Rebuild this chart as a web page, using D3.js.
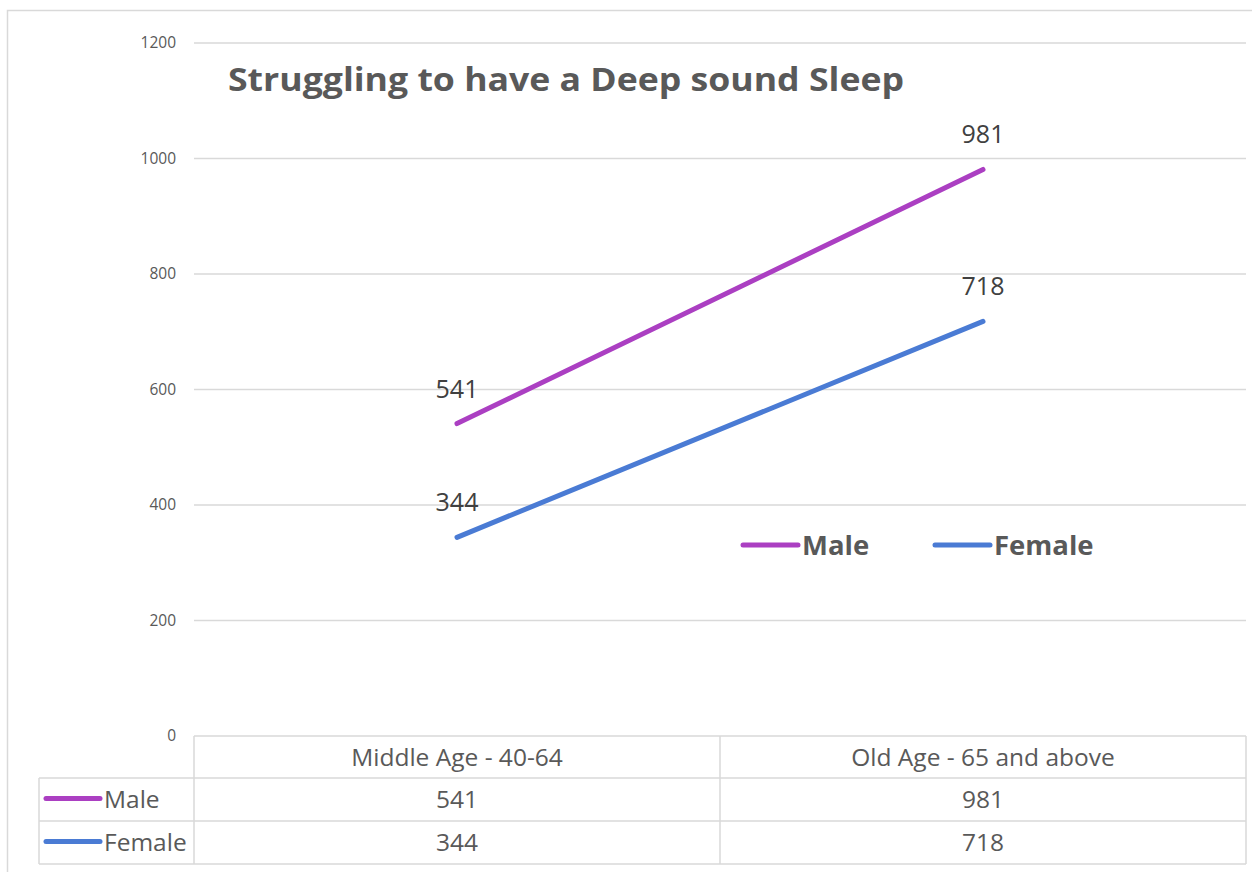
<!DOCTYPE html>
<html>
<head>
<meta charset="utf-8">
<script src="https://cdn.jsdelivr.net/npm/d3@7/dist/d3.min.js"></script>
<style>
  html, body { margin: 0; padding: 0; background: #fff; }
  svg { display: block; font-family: "Open Sans", "Noto Sans", sans-serif; }
</style>
</head>
<body>
<svg id="chart" width="1252" height="872"></svg>
<script>
// Chart data
const categories = ["Middle Age - 40-64", "Old Age - 65 and above"];
const seriesNames = ["Male", "Female"];
const maleValues = [541, 981];
const femaleValues = [344, 718];
const yTicks = [0, 200, 400, 600, 800, 1000, 1200];
const titleText = "Struggling to have a Deep sound Sleep";

const colors = { Male: "#ab3fc2", Female: "#4a7bd4" };
const series = [
  { name: seriesNames[0], values: maleValues },
  { name: seriesNames[1], values: femaleValues }
];

const svg = d3.select("#chart");
const W = 1252, H = 872;
const plot = { left: 194, right: 1246, top: 43, bottom: 736 };
const gridColor = "#d9d9d9";
const textColor = "#595959";
const fontFamily = '"Open Sans", "Noto Sans", sans-serif';

// Outer chart frame
svg.append("rect")
  .attr("x", 7.5).attr("y", 10.5)
  .attr("width", W + 10).attr("height", H + 10)
  .attr("fill", "#fff").attr("stroke", gridColor).attr("stroke-width", 1.5);

const x = d3.scaleBand().domain(categories).range([plot.left, plot.right]);
const y = d3.scaleLinear().domain([0, 1200]).range([plot.bottom, plot.top]);

// Horizontal gridlines
svg.append("g").selectAll("line")
  .data(yTicks.filter(t => t > 0))
  .join("line")
  .attr("x1", plot.left).attr("x2", plot.right)
  .attr("y1", d => y(d)).attr("y2", d => y(d))
  .attr("stroke", gridColor).attr("stroke-width", 1.5);

// Value axis labels
const yAxis = d3.axisLeft(y).tickValues(yTicks).tickFormat(d3.format("d")).tickSize(0).tickPadding(18);
const yg = svg.append("g").attr("transform", `translate(${plot.left},0)`).call(yAxis)
  .attr("font-family", fontFamily).attr("font-size", 15.5);
yg.select(".domain").remove();
yg.selectAll("text")
  .attr("fill", textColor)
  .attr("dy", "0.3em");

// Title
svg.append("text")
  .attr("x", 228).attr("y", 91)
  .attr("fill", textColor)
  .style("font-size", "33px").style("font-weight", "bold")
  .attr("textLength", 676).attr("lengthAdjust", "spacingAndGlyphs")
  .text(titleText);

// Series lines
const line = d3.line()
  .x((d, i) => x(categories[i]) + x.bandwidth() / 2)
  .y(d => y(d));

svg.append("g").selectAll("path")
  .data(series)
  .join("path")
  .attr("d", d => line(d.values))
  .attr("fill", "none")
  .attr("stroke", d => colors[d.name])
  .attr("stroke-width", 5)
  .attr("stroke-linecap", "round");

// Data labels
series.forEach(s => {
  svg.append("g").selectAll("text")
    .data(s.values)
    .join("text")
    .attr("x", (d, i) => x(categories[i]) + x.bandwidth() / 2)
    .attr("y", d => y(d) - 26)
    .attr("text-anchor", "middle")
    .attr("fill", "#404040")
    .style("font-size", "25px")
    .text(d => d);
});

// Legend
const legendItems = [
  { name: "Male", x0: 743 },
  { name: "Female", x0: 935 }
];
const lg = svg.append("g");
legendItems.forEach(it => {
  lg.append("line")
    .attr("x1", it.x0).attr("x2", it.x0 + 55)
    .attr("y1", 545).attr("y2", 545)
    .attr("stroke", colors[it.name]).attr("stroke-width", 5)
    .attr("stroke-linecap", "round");
  lg.append("text")
    .attr("x", it.x0 + 59).attr("y", 555)
    .attr("fill", textColor)
    .style("font-size", "27.5px").style("font-weight", "bold")
    .text(it.name);
});

// Data table beneath the plot
const rowTops = [736, 778, 821, 864];
const tableLeft = 39;
const tg = svg.append("g").attr("stroke", gridColor).attr("stroke-width", 1.5);
// horizontal rules
tg.append("line").attr("x1", plot.left).attr("x2", plot.right).attr("y1", rowTops[0]).attr("y2", rowTops[0]);
[1, 2, 3].forEach(r => {
  tg.append("line").attr("x1", tableLeft).attr("x2", plot.right)
    .attr("y1", rowTops[r]).attr("y2", rowTops[r]);
});
// vertical rules
tg.append("line").attr("x1", tableLeft).attr("x2", tableLeft).attr("y1", rowTops[1]).attr("y2", rowTops[3]);
[plot.left, plot.left + x.bandwidth(), plot.right].forEach(vx => {
  tg.append("line").attr("x1", vx).attr("x2", vx).attr("y1", rowTops[0]).attr("y2", rowTops[3]);
});

// header row: categories
svg.append("g").selectAll("text")
  .data(categories)
  .join("text")
  .attr("x", d => x(d) + x.bandwidth() / 2)
  .attr("y", (rowTops[0] + rowTops[1]) / 2 + 8.5)
  .attr("text-anchor", "middle")
  .attr("fill", textColor)
  .style("font-size", "24.5px")
  .text(d => d);

// series rows
series.forEach((s, r) => {
  const cy = (rowTops[r + 1] + rowTops[r + 2]) / 2;
  svg.append("line")
    .attr("x1", 46).attr("x2", 100)
    .attr("y1", cy - 1).attr("y2", cy - 1)
    .attr("stroke", colors[s.name]).attr("stroke-width", 5)
    .attr("stroke-linecap", "round");
  svg.append("text")
    .attr("x", 104).attr("y", cy + 8.5)
    .attr("fill", textColor)
    .style("font-size", "24.5px")
    .text(s.name);
  svg.append("g").selectAll("text")
    .data(s.values)
    .join("text")
    .attr("x", (d, i) => x(categories[i]) + x.bandwidth() / 2)
    .attr("y", cy + 8.5)
    .attr("text-anchor", "middle")
    .attr("fill", textColor)
    .style("font-size", "24.5px")
    .text(d => d);
});
</script>
</body>
</html>
